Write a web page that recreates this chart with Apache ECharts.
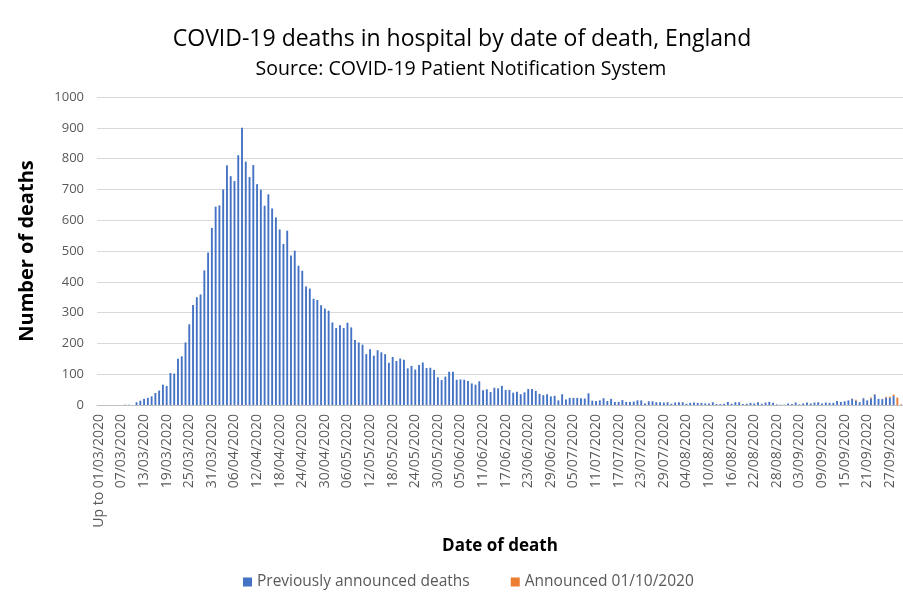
<!DOCTYPE html>
<html><head><meta charset="utf-8">
<script src="https://cdn.jsdelivr.net/npm/echarts@6/dist/echarts.min.js"></script>
<style>html,body{margin:0;padding:0;background:#fff}#c{width:903px;height:596px}</style>
</head><body><div id="c"></div>
<script>
// Category labels: "Up to 01/03/2020", then each day 02/03/2020 .. 30/09/2020
const firstLabel = "Up to 01/03/2020";
const startDay = new Date(2020, 2, 2);
const lastDay = new Date(2020, 8, 30);
const categories = [firstLabel];
for (let d = new Date(startDay); d <= lastDay; d.setDate(d.getDate() + 1)) {
  const dd = String(d.getDate()).padStart(2, '0');
  const mm = String(d.getMonth() + 1).padStart(2, '0');
  categories.push(dd + '/' + mm + '/' + d.getFullYear());
}

// Previously announced deaths
const previouslyAnnounced = [
  0,0,0,0,0,0,0,1,1,0,
  9,14,20,23,28,39,47,66,62,104,
  102,150,158,203,262,325,350,359,437,495,
  575,644,648,700,778,743,727,811,900,790,
  740,779,717,699,647,684,638,609,570,523,
  566,485,501,452,436,385,378,345,341,324,
  313,306,268,250,259,250,267,252,211,203,
  196,165,181,160,178,171,165,137,156,143,
  151,147,119,127,115,130,138,120,121,114,
  90,81,92,108,108,82,83,82,78,70,
  66,77,48,51,42,56,54,62,49,49,
  40,43,35,41,52,52,46,36,32,35,
  28,30,15,35,18,23,23,23,22,21,
  38,14,13,15,22,13,20,10,10,16,
  10,10,11,15,15,5,12,12,9,9,
  8,9,4,8,9,9,4,7,8,7,
  7,5,5,9,3,3,4,10,4,9,
  9,3,4,7,5,9,4,8,10,7,
  2,1,1,5,3,8,2,5,8,5,
  8,9,5,8,7,7,13,10,12,15,
  20,14,9,22,15,21,34,20,19,24,
  23,29,0,0
];
// Announced 01/10/2020: only the last 14 days (16/09 .. 30/09) carry values
const announcedLast14 = [1,3,0,1,0,3,1,0,1,3,4,5,24,2];
const announced = new Array(categories.length - announcedLast14.length).fill(0).concat(announcedLast14);

const yTicks = {min: 0, max: 1000, interval: 100};

const chart = echarts.init(document.getElementById('c'), null, {renderer: 'canvas'});
const FONT = 'Open Sans';
chart.setOption({
  animation: false,
  backgroundColor: '#ffffff',
  textStyle: {fontFamily: FONT},
  graphic: [
    {type: 'text', x: 462, y: 39, style: {text: 'COVID-19 deaths in hospital by date of death, England', font: '23px "Open Sans"', fill: '#000', align: 'center', verticalAlign: 'middle'}},
    {type: 'text', x: 461, y: 69, style: {text: 'Source: COVID-19 Patient Notification System', font: '19.5px "Open Sans"', fill: '#000', align: 'center', verticalAlign: 'middle'}}
  ],
  legend: {
    bottom: 1, left: 238,
    itemWidth: 9, itemHeight: 9, itemGap: 41,
    icon: 'rect',
    textStyle: {fontFamily: FONT, fontSize: 15.5, color: '#595959'},
    data: ['Previously announced deaths', 'Announced 01/10/2020']
  },
  grid: {left: 97, right: -1, top: 97, bottom: 191, containLabel: false},
  xAxis: {
    type: 'category',
    data: categories,
    name: 'Date of death',
    nameLocation: 'middle',
    nameGap: 133,
    nameTextStyle: {fontFamily: FONT, fontSize: 17, fontWeight: 'bold', color: '#000'},
    axisLine: {lineStyle: {color: '#bfbfbf'}},
    axisTick: {show: false},
    axisLabel: {interval: 5, rotate: 90, fontFamily: FONT, fontSize: 14, color: '#595959', margin: 9},
    splitLine: {show: false}
  },
  yAxis: {
    type: 'value',
    min: yTicks.min, max: yTicks.max, interval: yTicks.interval,
    name: 'Number of deaths',
    nameLocation: 'middle',
    nameGap: 60,
    nameRotate: 90,
    nameTextStyle: {fontFamily: FONT, fontSize: 20, fontWeight: 'bold', color: '#000'},
    axisLine: {show: false},
    axisTick: {show: false},
    axisLabel: {fontFamily: FONT, fontSize: 13, color: '#595959', margin: 13, formatter: v => String(v)},
    splitLine: {lineStyle: {color: '#d9d9d9', width: 1}}
  },
  series: [
    {name: 'Previously announced deaths', type: 'bar', stack: 'd', data: previouslyAnnounced,
     barWidth: '50%', itemStyle: {color: '#4472C4'}},
    {name: 'Announced 01/10/2020', type: 'bar', stack: 'd', data: announced,
     barWidth: '50%', itemStyle: {color: '#ED7D31'}}
  ]
});
</script></body></html>
